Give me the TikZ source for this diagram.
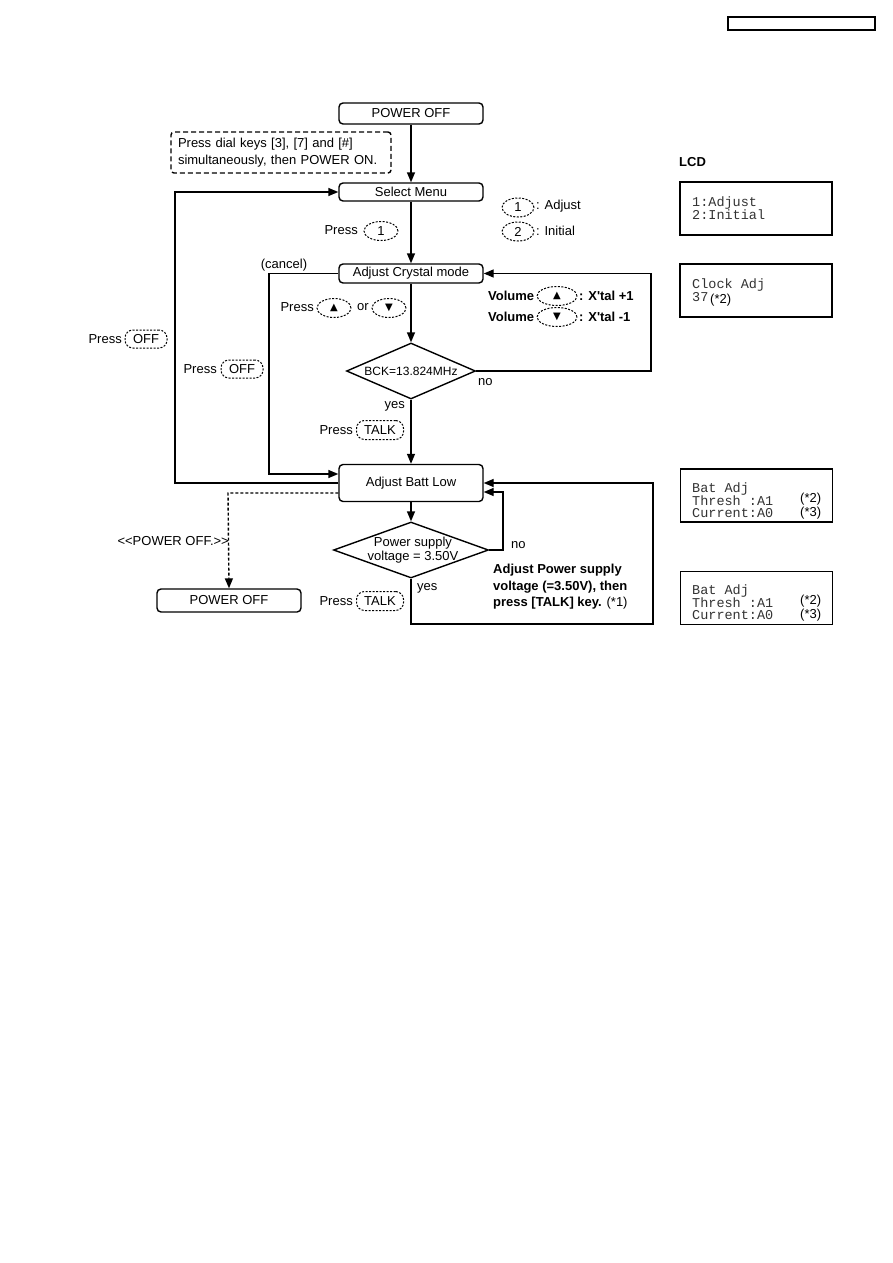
\documentclass[tikz,border=0pt]{standalone}
\usepackage{fontspec}
\setmainfont{Liberation Sans}
\newfontfamily\monof{Liberation Mono}
\newfontfamily\symf{DejaVu Sans}
\usetikzlibrary{arrows.meta,shapes.geometric,calc}
\newcommand\myfnt{\fontsize{13}{16}\selectfont}
\newcommand\myfnts{\fontsize{12}{14}\selectfont}
\newcommand\tri[1]{{\symf\fontsize{10}{10}\selectfont #1}}
\begin{document}
\begin{tikzpicture}[x=1pt,y=-1pt,
  fbox/.style={draw, rounded corners=4pt, line width=1.4pt, minimum width=144pt, inner sep=0pt, font=\myfnt},
  keyb/.style={draw, dash pattern=on 2pt off 1.5pt, line width=1pt, rounded corners=8pt, minimum height=19pt, inner sep=0pt, font=\myfnt},
  keye/.style={draw, ellipse, dash pattern=on 2pt off 1.5pt, line width=1pt, minimum height=19pt, inner sep=0pt, font=\myfnt},
  lbl/.style={inner sep=0pt, font=\myfnt},
  bld/.style={inner sep=0pt, font=\myfnt\bfseries},
  arr/.style={line width=1.4pt, -{Triangle[length=10pt,width=8pt]}},
  lcd/.style={draw, line width=1.6pt, minimum width=152pt, minimum height=53pt, inner sep=0pt},
  mono/.style={inner sep=0pt, anchor=west, font=\monof\fontsize{13.5}{12}\selectfont, text=black!80},
  dia/.style={draw, diamond, line width=1.4pt, inner sep=0pt}
]
\useasboundingbox (0,0) rectangle (893,1263);
\fill[white] (0,0) rectangle (893,1263);

% header box
\node[draw, line width=1.4pt, minimum width=147pt, minimum height=13pt, inner sep=0pt] (hdr) at (801.5,23.5) {};

% main flow
\node[fbox, minimum height=21pt] (pofftop) at (411,113.5) {POWER OFF};
\node[draw, dash pattern=on 5pt off 3pt, line width=1.4pt, rounded corners=3pt, minimum width=220pt, minimum height=41pt, text width=206pt, align=left, inner sep=0pt, font=\fontsize{13}{17}\selectfont] (note) at (281,152.5) {Press dial keys [3], [7] and [\#]\\simultaneously, then POWER ON.};
\node[fbox, minimum height=18pt] (select) at (411,192) {Select Menu};
\node[fbox, minimum height=19pt] (crystal) at (411,273.5) {Adjust Crystal mode};
\node[dia, minimum width=129pt, minimum height=56pt] (d1) at (411,371) {};
\node[lbl, font=\myfnts] (d1t) at (411,371) {BCK=13.824MHz};
\node[fbox, minimum height=37pt] (batt) at (411,483) {Adjust Batt Low};
\node[dia, minimum width=155pt, minimum height=56pt] (d2) at (411,550) {};
\node[lbl, align=center, font=\fontsize{13}{14}\selectfont] (d2t) at (413,550) {Power supply\\voltage = 3.50V};
\node[fbox, minimum height=23pt] (poffbot) at (229,600.5) {POWER OFF};

% labels
\node[lbl, anchor=east] (p1) at (358,230) {Press};
\node[keye, minimum width=34pt] (k1) at (381,231) {1};
\node[keye, minimum width=32pt] (lk1) at (518,207.5) {1};
\node[lbl, anchor=west] (lk1t) at (536,206) {: Adjust};
\node[keye, minimum width=32pt] (lk2) at (518,231.5) {2};
\node[lbl, anchor=west] (lk2t) at (536,231) {: Initial};

\node[bld, anchor=west] (v1) at (488,296) {Volume};
\node[keye, minimum width=40pt] (vk1) at (557,296) {\tri{▲}};
\node[bld, anchor=west] (v1t) at (579,296) {: X\textquotesingle tal +1};
\node[bld, anchor=west] (v2) at (488,317) {Volume};
\node[keye, minimum width=40pt] (vk2) at (557,317) {\tri{▼}};
\node[bld, anchor=west] (v2t) at (579,317) {: X\textquotesingle tal -1};

\node[lbl, anchor=east] (p2) at (314,307) {Press};
\node[keye, minimum width=34pt] (k2) at (334,308) {\tri{▲}};
\node[lbl] (or) at (363,307) {or};
\node[keye, minimum width=34pt] (k3) at (389,308) {\tri{▼}};

\node[lbl] (cancel) at (284,265) {(cancel)};
\node[lbl, anchor=west] (no1) at (478,382) {no};
\node[lbl, anchor=east] (yes1) at (405,406) {yes};
\node[lbl, anchor=east] (p3) at (353,430) {Press};
\node[keyb, minimum width=47pt] (k4) at (380,430) {TALK};

\node[lbl, anchor=east] (p4) at (122,339) {Press};
\node[keyb, minimum width=42pt, minimum height=18pt] (k5) at (146,339) {OFF};
\node[lbl, anchor=east] (p5) at (217,369) {Press};
\node[keyb, minimum width=42pt, minimum height=18pt] (k6) at (242,369) {OFF};

\node[lbl, anchor=east] (pwr) at (229,541) {{<}{<}POWER OFF.{>}{>}};
\node[lbl, anchor=west] (no2) at (511,545) {no};
\node[lbl, anchor=west] (yes2) at (417,588) {yes};
\node[lbl, anchor=east] (p6) at (353,601) {Press};
\node[keyb, minimum width=47pt] (k7) at (380,601) {TALK};
\node[inner sep=0pt, anchor=north west, align=left, font=\fontsize{13}{16.5}\selectfont] (adj) at (493,564) {\textbf{Adjust Power supply}\\\textbf{voltage (=3.50V), then}\\\textbf{press [TALK] key.} (*1)};

% connectors
\draw[arr] (pofftop) -- (select);
\draw[arr] (select) -- (crystal);
\draw[arr] (crystal) -- (d1.north);
\draw[arr] (d1.south) -- (batt);
\coordinate (r1) at (651,371);
\draw[arr] (d1.east) -- (r1) |- (crystal.east);
\coordinate (c1) at (269,474);
\draw[arr] (crystal.west) -| (c1) -- (c1 -| batt.west);
\coordinate (o1) at (175,483);
\draw[arr] (o1 -| batt.west) -- (o1) |- (select.west);
\coordinate (dd) at (228,493);
\draw[arr, dash pattern=on 3pt off 2pt] (dd -| batt.west) -- (dd) -- (poffbot.north);
\draw[arr] (batt) -- (d2.north);
\coordinate (n2) at (503,492);
\draw[arr] (d2.east) -| (n2) -- (n2 -| batt.east);
\coordinate (b1) at (653,624);
\coordinate (b2) at (653,483);
\draw[arr] (d2.south) |- (b1) -- (b2) -- (b2 -| batt.east);

% LCD
\node[inner sep=0pt, anchor=west, font=\myfnt\bfseries] (lcdl) at (679,162) {LCD};
\node[lcd] (lcd1) at (756,208.5) {};
\node[mono] (l1a) at (692,203) {1:Adjust};
\node[mono] (l1b) at (692,215) {2:Initial};
\node[lcd] (lcd2) at (756,290.5) {};
\node[mono] (l2a) at (692,285) {Clock Adj};
\node[mono] (l2b) at (692,297) {37};
\node[lbl, anchor=west] (l2c) at (710,300) {(*2)};
\node[lcd] (lcd3) at (756.5,495.5) {};
\node[mono] (l3a) at (692,489) {Bat Adj};
\node[mono] (l3b) at (692,501) {Thresh :A1};
\node[mono] (l3c) at (692,513) {Current:A0};
\node[lbl, anchor=west] (l3d) at (800,499) {(*2)};
\node[lbl, anchor=west] (l3e) at (800,513) {(*3)};
\node[lcd] (lcd4) at (756.5,598) {};
\node[mono] (l4a) at (692,591) {Bat Adj};
\node[mono] (l4b) at (692,603) {Thresh :A1};
\node[mono] (l4c) at (692,615) {Current:A0};
\node[lbl, anchor=west] (l4d) at (800,601) {(*2)};
\node[lbl, anchor=west] (l4e) at (800,615) {(*3)};
\end{tikzpicture}
\end{document}
